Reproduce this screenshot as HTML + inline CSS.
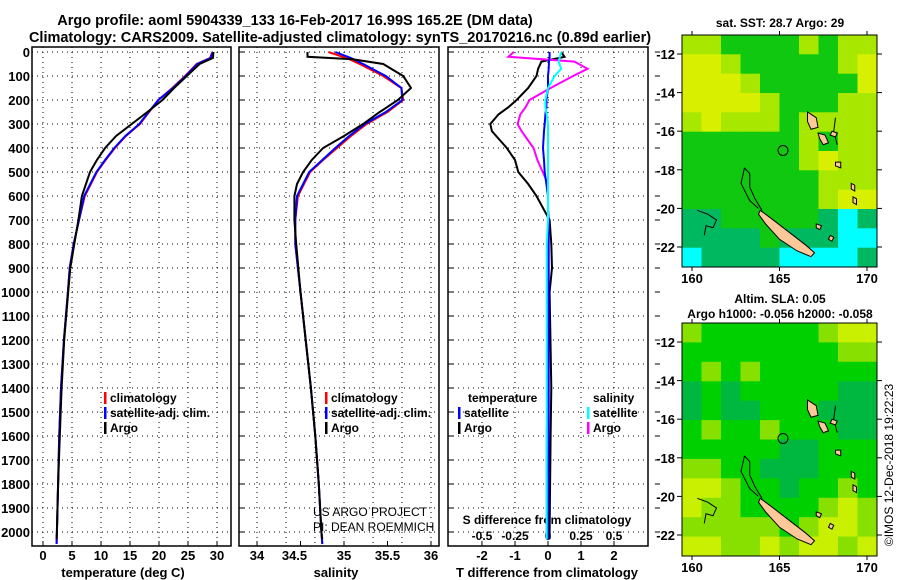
<!DOCTYPE html>
<html><head><meta charset="utf-8">
<style>
body{margin:0;background:#fff;}
svg{display:block;font-family:"Liberation Sans",Arial,sans-serif;font-weight:bold;}
</style></head>
<body>
<svg id="fig" width="900" height="580" viewBox="0 0 900 580"></svg>
<script>
// ---------- DATA ----------
const depths      = [0,25,50,100,150,200,250,300,350,400,450,500,600,700,800,900,1000,1200,1400,1600,1800,2000,2050];
const tempClim    = [29.2,28.8,26.5,24.5,22.3,19.9,18.3,16.7,14.3,12.4,10.8,9.3,7.2,6.2,5.3,4.6,4.3,3.6,3.1,2.8,2.6,2.4,2.35];
const tempSat     = [29.3,28.9,26.6,24.6,22.4,19.9,18.2,16.6,14.2,12.3,10.7,9.2,7.1,6.2,5.3,4.6,4.3,3.6,3.1,2.8,2.6,2.4,2.35];
const argoDepths  = [0,25,50,100,150,200,250,300,350,400,450,500,600,700,800,900,1000,1200,1400,1600,1800,2000,2030];
const tempArgo    = [29.4,29.3,27.0,24.8,22.6,20.6,18.0,15.3,12.6,10.7,9.3,8.1,6.7,6.1,5.4,4.7,4.35,3.65,3.2,2.9,2.6,2.4,2.35];
const salClim     = [34.82,35.03,35.18,35.45,35.66,35.68,35.5,35.26,35.08,34.92,34.76,34.61,34.47,34.44,34.44,34.47,34.5,34.56,34.62,34.67,34.71,34.74,34.75];
const salSat      = [34.9,35.08,35.22,35.48,35.66,35.67,35.48,35.24,35.06,34.9,34.75,34.6,34.46,34.44,34.44,34.47,34.5,34.56,34.62,34.67,34.71,34.74,34.75];
const salArgoDepths = [0,20,30,50,100,150,200,250,300,350,400,450,500,550,600,700,800,1000,1200,1400,1600,1800,2000,2030];
const salArgo     = [34.58,34.58,35.1,35.45,35.68,35.77,35.62,35.41,35.22,35.0,34.76,34.63,34.53,34.46,34.43,34.43,34.45,34.5,34.56,34.62,34.67,34.71,34.74,34.75];
const diffDepths  = [0,20,40,70,100,150,200,230,260,300,330,400,450,500,550,600,650,700,800,900,1000,1400,1600,2000,2030];
const dTArgo      = [0.4,0.5,-0.2,-0.3,-0.35,-0.6,-0.95,-1.2,-1.5,-1.75,-1.7,-1.25,-1.0,-0.9,-0.6,-0.35,-0.15,0.05,0.1,0.12,0.05,0.1,0.08,0.05,0.05];
const dTSat       = [0.05,0.05,0.03,0.02,0,0,-0.05,-0.05,-0.08,-0.1,-0.12,-0.15,-0.12,-0.1,-0.05,0,0,0.02,0.02,0.02,0.02,0.02,0.02,0.0,0.0];
const dSArgo      = [-0.26,-0.3,0.2,0.3,0.19,0.02,-0.14,-0.17,-0.21,-0.23,-0.2,-0.11,-0.08,-0.04,0,0,0,0,0,0,0,0,-0.01,-0.01,-0.01];
const dSSat       = [0.1,0.09,0.08,0.1,0.05,0.0,-0.02,-0.02,-0.01,0,0,0,0,0,0,0,0,0,-0.01,-0.01,-0.01,-0.01,-0.01,-0.01,-0.01];
const depthTicks  = [0,100,200,300,400,500,600,700,800,900,1000,1100,1200,1300,1400,1500,1600,1700,1800,1900,2000];
const tempTicks   = [0,5,10,15,20,25,30];
const salTicks    = [34,34.5,35,35.5,36];
const dTTicks     = [-2,-1,0,1,2];
const dSTicks     = [-0.5,-0.25,0,0.25,0.5];
const latTicks    = [-12,-14,-16,-18,-20,-22];
const lonTicks    = [160,165,170];
// map color grids (10 cols x 12 rows, north to south)
const sstGrid = ["LLGGGGLGLL","YYLGGGGGLY","YYYLGGGGGY","YYYYLGGGLL","LYLLLGLLLL","GGGGGGLGLL","GGGGGGLYLL","GGGGGGGLLL","GGGGGGGLYY","TTGGGGGTCT","TTTTGTTTCC","CTTTTCCCCT"];
const slaGrid = ["LGGGGGGLYY","GGGGGGGGLL","GLGLGGGGGG","DGDGGGGGDD","DGDDGGGDDD","GLGGLGGGDD","GGGGGDDGGG","LLGGDDDGGG","YYLGGDGGLG","YLLGGGGLYL","LLLLLGLYYL","YYLLYLYYLY"];

// ---------- HELPERS ----------
const svg=document.getElementById('fig');
const NS='http://www.w3.org/2000/svg';
function mk(tag,attrs,parent){const e=document.createElementNS(NS,tag);for(const k in attrs)e.setAttribute(k,attrs[k]);(parent||svg).appendChild(e);return e;}
function txt(x,y,s,size,anchor,parent){const t=mk('text',{x:x,y:y,'font-size':size,'text-anchor':anchor||'middle',fill:'#000'},parent);t.textContent=s;return t;}
const Y0=52, PXM=0.24, PTOP=47;
const yD=d=>Y0+d*PXM;
const xT=t=>43+t*5.8;
const xS=s=>257+(s-34)*87;
const xDT=v=>548+v*33;
const xDS=v=>548+v*132;
function line(xs,ds,fx,color,name,g){
  const pts=xs.map((v,i)=>fx(v).toFixed(1)+','+yD(ds[i]).toFixed(1)).join(' ');
  const p=mk('polyline',{points:pts,fill:'none',stroke:color,'stroke-width':2},g);
  
  
}
function panel(x0,x1,name){
  const g=mk('g',{});
  
  
  mk('rect',{x:x0,y:PTOP,width:x1-x0,height:546-PTOP,fill:'none',stroke:'#000','stroke-width':1.5},g);
  return g;
}

// ---------- TITLES ----------
const t1=txt(295,25,'Argo profile: aoml 5904339_133 16-Feb-2017 16.99S 165.2E (DM data)',14.5);

const t2=txt(340,42,'Climatology: CARS2009. Satellite-adjusted climatology: synTS_20170216.nc (0.89d earlier)',14.5);


// ---------- PANEL 1 : temperature ----------
const g1=panel(32,231,'temperature-panel');
depthTicks.forEach(d=>{
  mk('line',{x1:32,x2:231,y1:yD(d),y2:yD(d),stroke:'#000','stroke-dasharray':'1,4'},g1);
  const l=txt(30,yD(d)+5,String(d),13,'end',g1);
  
});
tempTicks.forEach(t=>{
  mk('line',{x1:xT(t),x2:xT(t),y1:PTOP,y2:546,stroke:'#000','stroke-dasharray':'1,4'},g1);
  mk('line',{x1:xT(t),x2:xT(t),y1:546,y2:541,stroke:'#000'},g1);
  txt(xT(t),560,String(t),13,'middle',g1);
});
const xl1=txt(123,577,'temperature (deg C)',13,'middle',g1);

line(tempClim,depths,xT,'#f00','temp-climatology-line',g1);
line(tempSat,depths,xT,'#00f','temp-satellite-line',g1);
line(tempArgo,argoDepths,xT,'#000','temp-argo-line',g1);
function legend(x,y,items,g,name){
  const lg=mk('g',{},g);
  
  items.forEach((it,i)=>{
    mk('rect',{x:x,y:y+i*15-10,width:2.5,height:12,fill:it[1]},lg);
    txt(x+6,y+i*15,it[0],12,'start',lg);
  });
}
legend(104,402,[['climatology','#f00'],['satellite-adj. clim.','#00f'],['Argo','#000']],g1,'temperature-legend');

// ---------- PANEL 2 : salinity ----------
const g2=panel(239,439,'salinity-panel');
depthTicks.forEach(d=>{
  mk('line',{x1:239,x2:439,y1:yD(d),y2:yD(d),stroke:'#000','stroke-dasharray':'1,4'},g2);
  mk('line',{x1:239,x2:244,y1:yD(d),y2:yD(d),stroke:'#000'},g2);
});
[0,1,2,3,4,5,6].forEach(i=>{
  const x=257+i*29;
  mk('line',{x1:x,x2:x,y1:PTOP,y2:546,stroke:'#000','stroke-dasharray':'1,4'},g2);
});
salTicks.forEach(s=>{
  mk('line',{x1:xS(s),x2:xS(s),y1:546,y2:541,stroke:'#000'},g2);
  txt(xS(s)-(s===34.5?6:0),560,String(s),13,'middle',g2);
});
const xl2=txt(336,577,'salinity',13,'middle',g2);

line(salClim,depths,xS,'#f00','sal-climatology-line',g2);
line(salSat,depths,xS,'#00f','sal-satellite-line',g2);
line(salArgo,salArgoDepths,xS,'#000','sal-argo-line',g2);
legend(325,402,[['climatology','#f00'],['satellite-adj. clim.','#00f'],['Argo','#000']],g2,'salinity-legend');
const pr1=mk('text',{x:313,y:516,'font-size':12,'font-weight':'normal',fill:'#000'},g2);pr1.textContent='US ARGO PROJECT';

const pr2=mk('text',{x:313,y:531,'font-size':12,'font-weight':'normal',fill:'#000'},g2);pr2.textContent='PI: DEAN ROEMMICH';


// ---------- PANEL 3 : differences ----------
const g3=panel(448,648,'difference-panel');
depthTicks.forEach(d=>{
  mk('line',{x1:448,x2:648,y1:yD(d),y2:yD(d),stroke:'#000','stroke-dasharray':'1,4'},g3);
  mk('line',{x1:448,x2:453,y1:yD(d),y2:yD(d),stroke:'#000'},g3);
  mk('line',{x1:655,x2:660,y1:yD(d),y2:yD(d),stroke:'#000'},g3);
});
dTTicks.forEach(t=>{
  mk('line',{x1:xDT(t),x2:xDT(t),y1:PTOP,y2:546,stroke:'#000','stroke-dasharray':'1,4'},g3);
  mk('line',{x1:xDT(t),x2:xDT(t),y1:546,y2:541,stroke:'#000'},g3);
  txt(xDT(t),560,String(t),13,'middle',g3);
});
dSTicks.forEach(s=>{
  txt(xDS(s),540,String(s),12,'middle',g3);
});
const sl=txt(547,524,'S difference from climatology',12,'middle',g3);

const xl3=txt(547,577,'T difference from climatology',13,'middle',g3);

line(dTArgo,diffDepths,xDT,'#000','tdiff-argo-line',g3);
line(dSArgo,diffDepths,xDS,'#f0f','sdiff-argo-line',g3);
line(dTSat,diffDepths,xDT,'#00f','tdiff-satellite-line',g3);
line(dSSat,diffDepths,xDS,'#0ff','sdiff-satellite-line',g3);
txt(468,402,'temperature',12,'start',g3);
legend(458,417,[['satellite','#00f'],['Argo','#000']],g3,'tdiff-legend');
txt(593,402,'salinity',12,'start',g3);
legend(587,417,[['satellite','#0ff'],['Argo','#f0f']],g3,'sdiff-legend');

// ---------- MAPS ----------
const sstCol={Y:'#d8f000',L:'#a8e800',G:'#10c810',T:'#00b860',C:'#00ffff'};
const slaCol={Y:'#c8f000',L:'#88e000',G:'#00d000',D:'#00b840'};
const islands=[
 [[163.9,-20.1],[164.5,-20.5],[165.5,-21.2],[166.5,-21.9],[167.0,-22.3],[166.8,-22.5],[166.0,-22.2],[165.0,-21.6],[164.2,-20.8],[163.8,-20.3]],
 [[166.6,-15.0],[167.1,-15.3],[167.2,-15.8],[166.8,-15.9],[166.6,-15.5]],
 [[167.2,-16.1],[167.6,-16.2],[167.8,-16.6],[167.5,-16.7],[167.3,-16.4]],
 [[168.0,-16.0],[168.3,-16.1],[168.2,-16.3],[167.9,-16.2]],
 [[168.2,-17.6],[168.5,-17.6],[168.5,-17.9],[168.2,-17.8]],
 [[169.1,-18.7],[169.3,-18.8],[169.3,-19.1],[169.1,-19.0]],
 [[169.2,-19.4],[169.4,-19.5],[169.4,-19.8],[169.2,-19.7]],
 [[167.1,-20.8],[167.4,-20.9],[167.3,-21.1],[167.1,-21.0]],
 [[167.9,-21.4],[168.1,-21.5],[168.0,-21.7],[167.8,-21.6]]
];
const reefs=[
 [[163.0,-17.9],[163.3,-18.2],[163.3,-18.9],[163.6,-19.5],[164.0,-20.1]],
 [[163.0,-17.9],[162.8,-18.7],[163.3,-19.6],[163.8,-20.0]],
 [[160.3,-20.1],[160.9,-20.3],[161.4,-20.6],[161.2,-21.0],[160.8,-20.9],[160.7,-21.4]],
 [[168.2,-15.3],[168.1,-16.0],[168.3,-16.7]]
];
function map(y0,y1,grid,cols,name,title1,title2){
  const g=mk('g',{});
  
  const x0=682,x1=877;
  const lx=lon=>692+(lon-160)*17.5;
  const ly=lat=>y0+19+(-12-lat)*19.3;
  const rows=grid.length,nc=grid[0].length;
  const cw=(x1-x0)/nc,ch=(y1-y0)/rows;
  grid.forEach((row,r)=>{[...row].forEach((c,k)=>{
    const cell=mk('rect',{x:(x0+k*cw).toFixed(1),y:(y0+r*ch).toFixed(1),width:cw+0.5,height:ch+0.5,fill:cols[c]},g);
    
    
  });});
  reefs.forEach(rf=>mk('polyline',{points:rf.map(p=>lx(p[0])+','+ly(p[1])).join(' '),fill:'none',stroke:'#000','stroke-width':1},g));
  islands.forEach(is=>mk('polygon',{points:is.map(p=>lx(p[0])+','+ly(p[1])).join(' '),fill:'#ffc898',stroke:'#000','stroke-width':1},g));
  const c=mk('circle',{cx:lx(165.2),cy:ly(-17),r:5,fill:'none',stroke:'#000','stroke-width':1},g);
  
  mk('rect',{x:x0,y:y0,width:x1-x0,height:y1-y0,fill:'none',stroke:'#000','stroke-width':1},g);
  latTicks.forEach(l=>{
    mk('line',{x1:x0-5,x2:x0,y1:ly(l),y2:ly(l),stroke:'#000'},g);
    mk('line',{x1:x1,x2:x1+5,y1:ly(l),y2:ly(l),stroke:'#000'},g);
    txt(x0-7,ly(l)+5,String(l),13,'end',g);
  });
  lonTicks.forEach(l=>{
    mk('line',{x1:lx(l),x2:lx(l),y1:y0-4,y2:y0,stroke:'#000'},g);
    mk('line',{x1:lx(l),x2:lx(l),y1:y1,y2:y1+4,stroke:'#000'},g);
    txt(lx(l),y1+16,String(l),13,'middle',g);
  });
  txt(780,y0-(title2?20:8),title1,12,'middle',g);
  if(title2)txt(780,y0-5,title2,12,'middle',g);
}
map(35,267,sstGrid,sstCol,'sst-map','sat. SST: 28.7 Argo: 29');
map(323,556,slaGrid,slaCol,'sla-map','Altim. SLA: 0.05','Argo h1000: -0.056 h2000: -0.058');
const cr=mk('text',{x:0,y:0,'font-size':12,'font-weight':'normal',fill:'#000','text-anchor':'middle',transform:'translate(893,465) rotate(-90)'});
cr.textContent='©IMOS 12-Dec-2018 19:22:23';

</script>
</body></html>
